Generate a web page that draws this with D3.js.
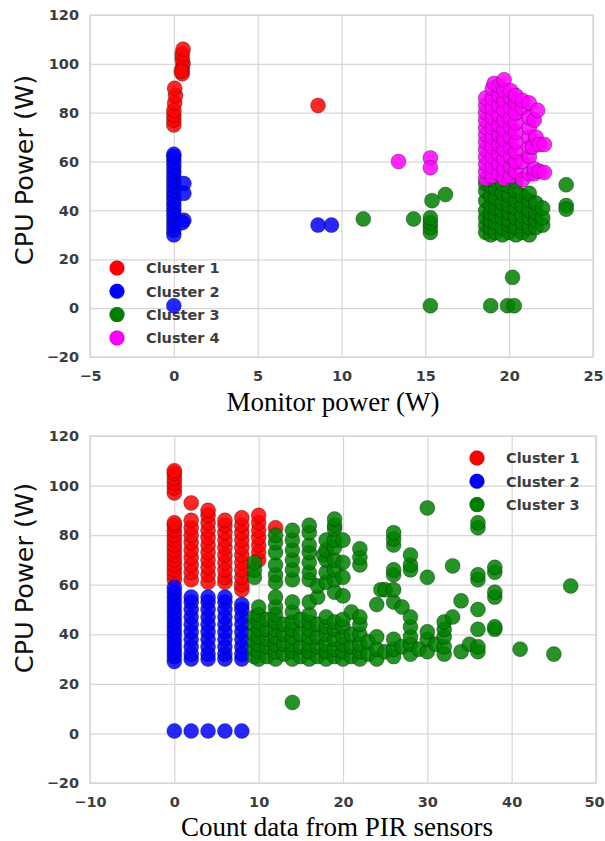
<!DOCTYPE html>
<html><head><meta charset="utf-8">
<script src="https://cdn.jsdelivr.net/npm/d3@7"></script>
<style>body{margin:0;background:#fff}svg{display:block}</style>
</head><body>
<svg id="c" width="605" height="841"></svg>
<script>
// ---------- DATA ----------
// Top chart: Monitor power (W) vs CPU Power (W)
const topXTicks = [-5, 0, 5, 10, 15, 20, 25];
const topYTicks = [-20, 0, 20, 40, 60, 80, 100, 120];
const topLegend = ["Cluster 1", "Cluster 2", "Cluster 3", "Cluster 4"];
const topC1 = [[0,75],[0,77],[0,79],[0,81],[0.05,84],[0.1,87],[0.05,90],[0.5,96],[0.5,98],[0.55,100],[0.5,102],[0.5,104],[0.55,106],[0.45,97],[8.6,83]];
const topC2 = [[0,30],[0,32],[0,34],[0,36],[0,38],[0,40],[0,42],[0,44],[0,46],[0,48],[0,50],[0,52],[0,54],[0,56],[0,58],[0,60],[0,62],[0,63],
  [0.6,51],[0.6,47],[0.6,36],[0.5,35],[0,1],[8.6,34],[9.4,34]];
const topC3 = [[11.3,36.5],[14.3,36.5],[15.3,31],[15.3,33],[15.3,35],[15.3,37],[15.4,44],[16.2,46.5],[23.4,50.5],[23.4,42],[23.4,40.5],
  [15.3,1],[18.9,1],[19.9,1],[20.3,1],[20.2,12.6],
  [18.6,31],[18.6,34],[18.6,37],[18.6,40],[18.6,44],[18.6,48],[18.6,51],
  [18.9,30],[18.9,33],[18.9,36],[18.9,39],[18.9,42],[18.9,46],[18.9,50],
  [19.2,31],[19.2,35],[19.2,38],[19.2,41],[19.2,45],[19.2,49],[19.2,52],
  [19.6,30],[19.6,33],[19.6,37],[19.6,40],[19.6,43],[19.6,47],[19.6,51],
  [20.0,31],[20.0,34],[20.0,36],[20.0,39],[20.0,42],[20.0,46],[20.0,50],
  [20.4,30],[20.4,33],[20.4,37],[20.4,41],[20.4,44],[20.4,48],[20.4,52],
  [20.8,31],[20.8,35],[20.8,38],[20.8,42],[20.8,46],
  [21.2,30],[21.2,33],[21.2,37],[21.2,40],[21.2,44],[21.2,47],
  [21.6,33],[21.6,36],[21.6,39],[21.6,43],
  [22.0,34],[22.0,37],[22.0,41]];
const topC4 = [[13.4,60],[15.3,61.5],[15.3,57.5],
  [18.6,53],[18.6,56],[18.6,59],[18.6,62],[18.6,65],[18.6,68],[18.6,71],[18.6,74],[18.6,77],[18.6,80],[18.6,83],[18.6,86],
  [19.0,54],[19.0,58],[19.0,62],[19.0,66],[19.0,70],[19.0,74],[19.0,78],[19.0,82],[19.0,86],[19.0,90],[19.1,92],
  [19.4,55],[19.4,59],[19.4,63],[19.4,67],[19.4,71],[19.4,75],[19.4,79],[19.4,83],[19.4,87],[19.4,91],
  [19.7,53],[19.7,57],[19.7,61],[19.7,65],[19.7,69],[19.7,73],[19.7,77],[19.7,81],[19.7,85],[19.7,89],[19.7,93.5],
  [20.1,54],[20.1,58],[20.1,62],[20.1,66],[20.1,70],[20.1,74],[20.1,78],[20.1,82],[20.1,86],[20.1,89],
  [20.4,56],[20.4,60],[20.4,64],[20.4,68],[20.4,72],[20.4,76],[20.4,80],[20.4,84],[20.4,87],
  [20.8,52.6],[20.8,60],[20.8,82],[20.8,85],
  [21.2,55],[21.2,62],[21.2,66],[21.2,70],[21.2,74],[21.2,78],[21.2,84],
  [21.5,55],[21.5,57],[21.4,66],[21.6,70],[21.5,77],[21.7,81],
  [21.8,56],[21.8,67],[22.1,55.5],[22.1,67]];

// Bottom chart: Count data from PIR sensors vs CPU Power (W)
const botXTicks = [-10, 0, 10, 20, 30, 40, 50];
const botYTicks = [-20, 0, 20, 40, 60, 80, 100, 120];
const botLegend = ["Cluster 1", "Cluster 2", "Cluster 3"];
const botC1 = [[0,97],[0,99],[0,101],[0,103],[0,105],[0,106],
  [0,62],[0,64],[0,66],[0,68],[0,70],[0,72],[0,74],[0,76],[0,78],[0,80],[0,82],[0,84],[0,85],
  [2,93],[2,62],[2,65],[2,68],[2,71],[2,74],[2,77],[2,80],[2,83],[2,86],
  [4,61],[4,64],[4,67],[4,70],[4,73],[4,76],[4,79],[4,82],[4,85],[4,88],[4,90],
  [6,61],[6,63],[6,66],[6,69],[6,72],[6,75],[6,78],[6,81],[6,84],[6,86],
  [8,58],[8,60],[8,63],[8,66],[8,69],[8,72],[8,75],[8,78],[8,81],[8,84],[8,87],
  [10,70],[10,73],[10,76],[10,79],[10,82],[10,85],[10,88],[12,83]];
const botC2 = [[0,29],[0,31],[0,33],[0,35],[0,37],[0,39],[0,41],[0,43],[0,45],[0,47],[0,49],[0,51],[0,53],[0,55],[0,57],[0,59],[0,1],
  [2,30],[2,32],[2,35],[2,38],[2,41],[2,44],[2,47],[2,50],[2,53],[2,55],[2,1],
  [4,30],[4,32],[4,35],[4,38],[4,41],[4,44],[4,47],[4,50],[4,53],[4,55],[4,1],
  [6,30],[6,32],[6,35],[6,38],[6,41],[6,44],[6,47],[6,50],[6,53],[6,55],[6,1],
  [8,30],[8,32],[8,35],[8,38],[8,41],[8,44],[8,47],[8,50],[8,52],[8,1]];
const botC3 = [[9.5,31],[9.5,34],[9.5,37],[9.5,40],[9.5,44],[9.5,47],[9.5,63],[9.5,66],[9.5,69],
  [10,30],[10,33],[10,36],[10,39],[10,42],[10,45],[10,48],[10,51],
  [11,31],[11,35],[11,38],[11,42],[11,46],
  [12,30],[12,33],[12,36],[12,39],[12,42],[12,45],[12,48],[12,51],[12,55],[12,61],[12,64],[12,68],[12,73],[12,77],[12,80],
  [13,32],[13,36],[13,40],[13,44],
  [14,30],[14,33],[14,36],[14,39],[14,42],[14,45],[14,49],[14,53],[14,62],[14,66],[14,70],[14,74],[14,78],[14,82],[14,12.5],
  [15,31],[15,35],[15,40],[15,46],
  [16,30],[16,33],[16,36],[16,39],[16,42],[16,45],[16,48],[16,53],[16,62],[16,65],[16,69],[16,73],[16,76],[16,81],[16,84],
  [17,31],[17,35],[17,39],[17,44],[17,55],[17,59.5],[17.7,72],
  [18,30],[18,33],[18,36],[18,40],[18,43],[18,47],[18,61],[18,65],[18,70],[18,74],[18,78],
  [19,31],[19,34],[19,38],[19,42],[19,45],[19,57],[19,62],[19,66],[19,70],[19,75],[19,78],[19,82.5],[19,84],[19,86.5],
  [20,30],[20,33],[20,36],[20,39],[20,43],[20,46],[20,55.5],[20,63],[20,69],[20,78],
  [21,31],[21,35],[21,40],[21,49],
  [22,30],[22,33],[22,36],[22,40],[22,44],[22,47],[22,68],[22,71],[22,74.5],
  [23,32],[23,37],[24,30],[24,34],[24,39],[24,52],[24.5,58],[25,33],[25,58],
  [26,31],[26,34],[26,38],[26,53],[26,58],[26,64],[26,66],[26,76],[26,78.5],[26,81],
  [27,35],[27,51],[28,32],[28,36],[28,39],[28,43],[28,47],[28,66],[28,68],[28,72],
  [29,34],[30,33],[30,38],[30,41],[30,63],[30,91],[31,36],
  [32,32],[32,35],[32,39],[32,42],[32,45],[33,47],[33,67.6],[34,33],[34,53.5],[35,36],
  [36,33],[36,35],[36,42],[36,50],[36,62],[36,64],[36,83],[36,85],
  [38,42],[38,43],[38,55],[38,57],[38,65],[38,67],[41,34],[45,32],[47,59.5]];

// ---------- DRAW ----------
const svg = d3.select("#c");
const colors = ["#ff0000", "#0000ff", "#008000", "#ff00ff"];
const tickFont = "bold 14.5px 'DejaVu Sans'";
const R = 7.5;

function panel(cfg) {
  const x = d3.scaleLinear().domain(cfg.xDomain).range([cfg.left, cfg.right]);
  const y = d3.scaleLinear().domain(cfg.yDomain).range([cfg.bottom, cfg.top]);
  const g = svg.append("g");
  // grid
  g.append("g").attr("transform", `translate(0,${cfg.bottom})`)
    .call(d3.axisBottom(x).tickValues(cfg.xTicks).tickSize(-(cfg.bottom - cfg.top)).tickFormat(d3.format("d")))
    .call(a => { a.select(".domain").remove();
      a.selectAll(".tick line").attr("stroke", "#d6d6d6").attr("stroke-width", 1.2);
      a.selectAll(".tick text").attr("y", 14).attr("dy", "0.71em")
        .attr("dx", (d, i, n) => (i === n.length - 1 && cfg.right > 594) ? -2 : 0)
        .style("font", tickFont).attr("fill", "#3c3c3c"); });
  g.append("g").attr("transform", `translate(${cfg.left},0)`)
    .call(d3.axisLeft(y).tickValues(cfg.yTicks).tickSize(-(cfg.right - cfg.left)).tickFormat(d3.format("d")))
    .call(a => { a.select(".domain").remove();
      a.selectAll(".tick line").attr("stroke", "#d6d6d6").attr("stroke-width", 1.2);
      a.selectAll(".tick text").attr("x", -11)
        .style("font", tickFont).attr("fill", "#3c3c3c"); });
  g.append("rect").attr("x", cfg.left).attr("y", cfg.top)
    .attr("width", cfg.right - cfg.left).attr("height", cfg.bottom - cfg.top)
    .attr("fill", "none").attr("stroke", "#d6d6d6").attr("stroke-width", 1.4);
  // legend
  const lg = g.append("g");
  cfg.legend.forEach((name, i) => {
    lg.append("circle").attr("cx", cfg.legX).attr("cy", cfg.legY + i * 23.3).attr("r", R)
      .attr("fill", colors[i]).attr("stroke", "rgba(0,0,0,0.15)");
    lg.append("text").attr("x", cfg.legX + 29).attr("y", cfg.legY + i * 23.3).attr("dy", "0.36em")
      .style("font", tickFont).attr("fill", "#3c3c3c").text(name);
  });
  // points
  cfg.series.forEach((s, i) => {
    g.append("g").selectAll("circle").data(s).join("circle")
      .attr("cx", d => x(d[0])).attr("cy", d => y(d[1])).attr("r", R)
      .attr("fill", colors[i]).attr("fill-opacity", 0.85)
      .attr("stroke", "#000").attr("stroke-opacity", 0.3).attr("stroke-width", 1);
  });
  // labels
  g.append("text").attr("transform", `translate(${cfg.yLabX},${cfg.yLabY}) rotate(-90)`)
    .attr("text-anchor", "middle").style("font", "25.5px 'DejaVu Sans'").attr("fill", "#111")
    .text("CPU Power (W)");
  g.append("text").attr("x", cfg.xLabX).attr("y", cfg.xLabY).attr("text-anchor", "middle")
    .style("font", "27px 'Liberation Serif'").attr("fill", "#000").text(cfg.xLabel);
}

panel({ xDomain: [-5, 25], yDomain: [-20, 120], left: 90, right: 593, top: 15, bottom: 357,
  xTicks: topXTicks, yTicks: topYTicks, legend: topLegend, legX: 117, legY: 268,
  series: [topC1, topC2, topC3, topC4], yLabX: 33, yLabY: 170, xLabX: 333, xLabY: 411,
  xLabel: "Monitor power (W)" });
panel({ xDomain: [-10, 50], yDomain: [-20, 120], left: 90, right: 596, top: 436, bottom: 783,
  xTicks: botXTicks, yTicks: botYTicks, legend: botLegend, legX: 477, legY: 458,
  series: [botC1, botC2, botC3], yLabX: 33, yLabY: 578, xLabX: 337, xLabY: 836,
  xLabel: "Count data from PIR sensors" });
</script>
</body></html>
